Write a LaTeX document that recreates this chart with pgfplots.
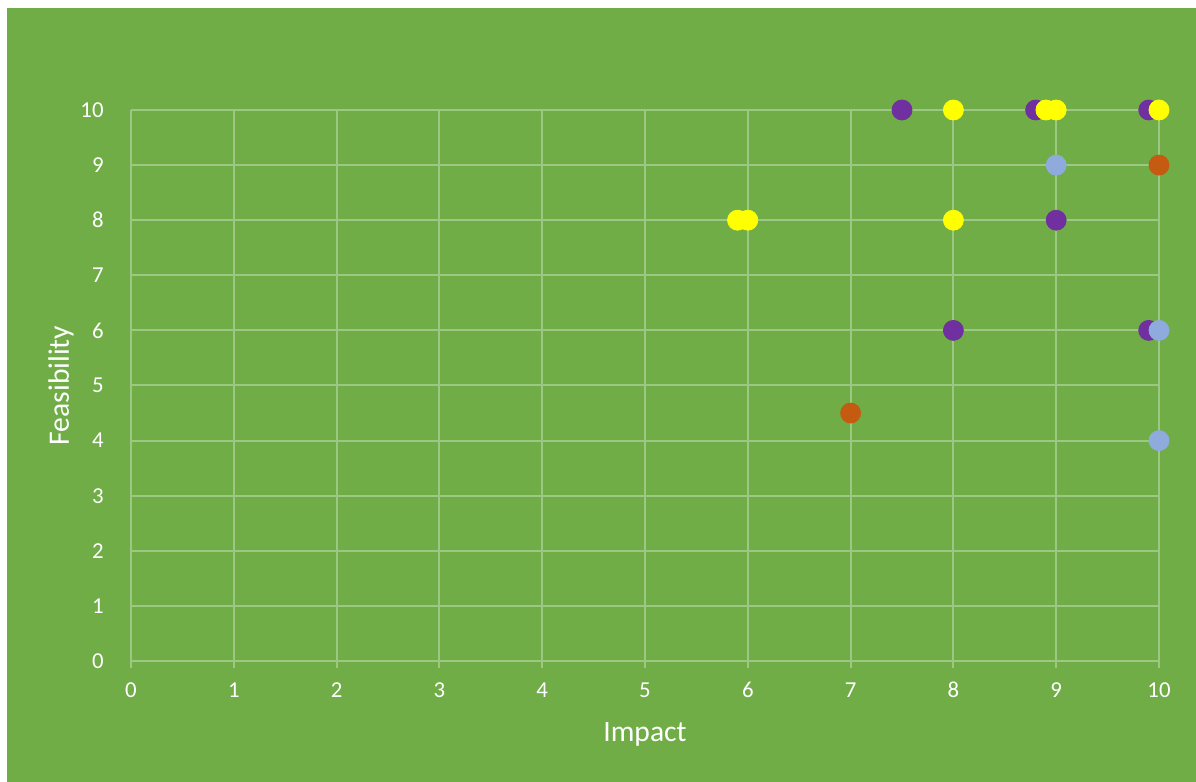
\documentclass[border=0pt]{standalone}
\usepackage{pgfplots}
\pgfplotsset{compat=1.18}
\usepackage{fontspec}
\setmainfont{Carlito}
\definecolor{bg}{HTML}{70AD47}
\definecolor{gridc}{HTML}{9CC883}
\definecolor{cpurple}{HTML}{7030A0}
\definecolor{cyellow}{HTML}{FFFF00}
\definecolor{cblue}{HTML}{8FAADC}
\definecolor{corange}{HTML}{C55A11}
\begin{document}
\begin{tikzpicture}
% picture frame: 1px = 0.5pt; axis box 514pt x 275.5pt
\fill[white] (-65.5pt,-60.5pt) rectangle (532.5pt,330.5pt);
\useasboundingbox (-65.5pt,-60.5pt) rectangle (532.5pt,330.5pt);
\fill[bg] (-62pt,-60.5pt) rectangle (532.5pt,326.5pt);
\begin{axis}[
  at={(0,0)}, anchor=south west,
  scale only axis,
  width=514pt, height=275.5pt,
  xmin=0, xmax=10, ymin=0, ymax=10,
  xtick={0,...,10}, ytick={0,...,10},
  axis line style={draw=none},
  grid=major,
  major grid style={gridc, line width=1pt},
  xtick style={gridc, line width=1pt},
  ytick style={draw=none},
  xtick pos=bottom, ytick pos=left,
  tick align=outside,
  major tick length=3.5pt,
  /pgf/number format/assume math mode=true,
  tick label style={white, font=\fontsize{11.4}{13}\selectfont},
  xticklabel style={inner sep=0pt, anchor=north, yshift=-7pt},
  yticklabel style={inner sep=0pt, anchor=east, xshift=-10pt},
  xlabel={Impact},
  ylabel={Feasibility},
  label style={white, font=\fontsize{14.8}{17}\selectfont},
  xlabel style={at={(axis description cs:0.5,-0.134)}, anchor=center},
  ylabel style={at={(axis description cs:-0.0681,0.5)}, anchor=center, rotate=0},
  clip=false,
]
\addplot[only marks, mark=*, mark size=5pt, color=cpurple, mark options={draw=cpurple, fill=cpurple}]
  coordinates {(7.5,10) (8.8,10) (9.9,10) (9,8) (8,6) (9.9,6)};
\addplot[only marks, mark=*, mark size=5pt, color=cyellow, mark options={draw=cyellow, fill=cyellow}]
  coordinates {(8,10) (8.9,10) (9,10) (10,10) (5.9,8) (6,8) (8,8)};
\addplot[only marks, mark=*, mark size=5pt, color=cblue, mark options={draw=cblue, fill=cblue}]
  coordinates {(9,9) (10,6) (10,4)};
\addplot[only marks, mark=*, mark size=5pt, color=corange, mark options={draw=corange, fill=corange}]
  coordinates {(10,9) (7,4.5)};
\end{axis}
\end{tikzpicture}
\end{document}
